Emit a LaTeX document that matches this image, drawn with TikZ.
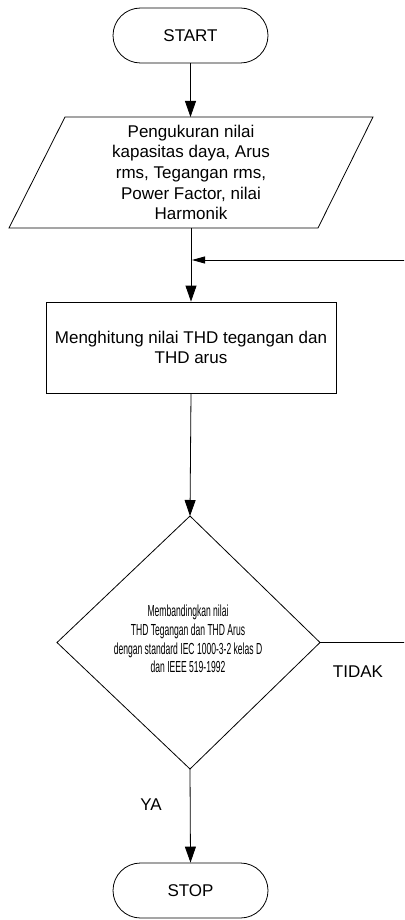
\documentclass[tikz,border=0pt]{standalone}
\usepackage{fontspec}
\setmainfont{Liberation Sans}
\newfontfamily\narrowfont[FakeStretch=0.535]{Liberation Sans}
\usetikzlibrary{arrows.meta,shapes.misc}
\begin{document}
\begin{tikzpicture}[x=1pt,y=-1pt,
  line/.style={line width=0.8pt, draw=black},
  arr/.style={line, -{Triangle[length=16pt,width=11pt]}},
  harr/.style={line, -{Triangle[length=13pt,width=7pt]}},
  txt/.style={font=\fontsize{17}{20.7}\selectfont, align=center, inner sep=0pt},
  term/.style={txt, rounded rectangle, line, minimum width=155pt, minimum height=55pt},
  procbox/.style={txt, line, rectangle, minimum width=290pt, minimum height=91pt},
  smalltxt/.style={font=\narrowfont\fontsize{16}{18.7}\selectfont, align=center, inner sep=0pt}
]
\clip (0,0) rectangle (404,920);

% START
\node[term] (start) at (190.5,35.5) {START};

% input parallelogram
\node[txt, minimum width=250pt, minimum height=111pt] (inp) at (191,172.5)
  {Pengukuran nilai\\kapasitas daya, Arus\\rms, Tegangan rms,\\Power Factor, nilai\\Harmonik};
\coordinate (p1) at (65,117);
\coordinate (p2) at (373,117);
\coordinate (p3) at (318,228);
\coordinate (p4) at (9,228);
\draw[line] (p1) -- (p2) -- (p3) -- (p4) -- cycle;

% process box
\node[procbox] (proc) at (191,347.5) {Menghitung nilai THD tegangan dan\\THD arus};

% decision diamond
\node[smalltxt] (dec) at (188,639)
  {Membandingkan nilai\\THD Tegangan dan THD Arus\\dengan standard IEC 1000-3-2 kelas D\\dan IEEE 519-1992};
\coordinate (dt) at (190,516);
\coordinate (dr) at (320,642.5);
\coordinate (db) at (190,769);
\coordinate (dl) at (57,642.5);
\draw[line] (dt) -- (dr) -- (db) -- (dl) -- cycle;

% STOP
\node[term] (stop) at (190.5,890.5) {STOP};

% labels
\node[txt] (ya) at (151,805) {YA};
\node[txt] (tidak) at (358,672) {TIDAK};

% connectors
\coordinate (join) at (192,260);
\coordinate (fbtop) at (410,260);
\coordinate (fbbot) at (410,642.5);
\draw[arr] (start.south) -- (start.south |- p1);
\draw[arr] (inp.south |- p4) -- (proc.north);
\draw[arr] (proc.south) -- (dt);
\draw[arr] (db) -- (stop.north);
\draw[line] (dr) -- (fbbot) -- (fbtop);
\draw[harr] (fbtop) -- (join);
\end{tikzpicture}
\end{document}
